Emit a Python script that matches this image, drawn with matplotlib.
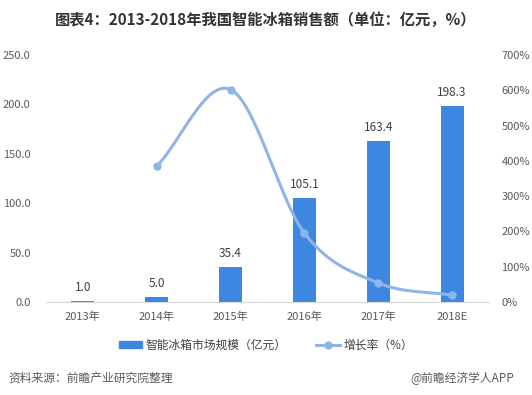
import numpy as np
import matplotlib

matplotlib.use("Agg")
import matplotlib.pyplot as plt
from matplotlib.patches import Patch
from matplotlib.lines import Line2D

plt.rcParams["font.family"] = ["Noto Sans CJK SC", "DejaVu Sans"]

years = ["2013年", "2014年", "2015年", "2016年", "2017年", "2018E"]
sales = [1.0, 5.0, 35.4, 105.1, 163.4, 198.3]
growth_years = [1, 2, 3, 4, 5]  # 2014 .. 2018E
growth = [385, 602, 195, 54, 19]

BAR_C = "#3D87E3"
LINE_C = "#8EB5E6"
TXT_C = "#595959"


def catmull_rom(xs, ys, n=40):
    # Excel 风格平滑曲线
    pts = np.column_stack([xs, ys]).astype(float)
    p = np.vstack([2 * pts[0] - pts[1], pts, 2 * pts[-1] - pts[-2]])
    out = []
    t = np.linspace(0, 1, n)[:, None]
    for i in range(1, len(p) - 2):
        p0, p1, p2, p3 = p[i - 1], p[i], p[i + 1], p[i + 2]
        seg = 0.5 * ((2 * p1) + (-p0 + p2) * t
                     + (2 * p0 - 5 * p1 + 4 * p2 - p3) * t ** 2
                     + (-p0 + 3 * p1 - 3 * p2 + p3) * t ** 3)
        out.append(seg)
    c = np.vstack(out)
    return c[:, 0], c[:, 1]


fig = plt.figure(figsize=(5.32, 3.95), dpi=100)
ax = fig.add_axes([46 / 532, 1 - 302 / 395, 443 / 532, 247 / 395])
x = np.arange(len(years))
bars = ax.bar(x, sales, 0.31, color=BAR_C, zorder=2)
for rect, v in zip(bars, sales):
    ax.annotate(f"{v:.1f}", (rect.get_x() + rect.get_width() / 2, v),
                xytext=(0, 5), textcoords="offset points",
                ha="center", va="bottom", fontsize=8.5, color="#404040")

ax.set_xlim(-0.5, len(years) - 0.5)
ax.set_ylim(0, 250)
ax.set_yticks(np.arange(0, 251, 50))
ax.set_yticklabels([f"{v:.1f}" for v in np.arange(0, 251, 50)])
ax.set_xticks(x)
ax.set_xticklabels(years)
ax.tick_params(length=0, labelsize=8, colors=TXT_C)
ax.tick_params(axis="y", pad=11)
ax.tick_params(axis="x", pad=7)
for s in ("top", "right", "left"):
    ax.spines[s].set_visible(False)
ax.spines["bottom"].set_color("#D9D9D9")

ax2 = ax.twinx()
cx, cy = catmull_rom(growth_years, growth)
ax2.plot(cx, cy, color=LINE_C, lw=2.2, zorder=3, solid_capstyle="round")
ax2.plot(growth_years, growth, "o", color=LINE_C, ms=5, zorder=4)
ax2.set_ylim(0, 700)
ax2.set_yticks(np.arange(0, 701, 100))
ax2.set_yticklabels([f"{v}%" for v in range(0, 701, 100)])
ax2.tick_params(length=0, labelsize=8, colors=TXT_C, pad=9)
for s in ("top", "right", "left", "bottom"):
    ax2.spines[s].set_visible(False)

fig.text(0.5, 1 - 20 / 395, "图表4：2013-2018年我国智能冰箱销售额（单位：亿元，%）",
         ha="center", va="center", fontsize=11, fontweight="bold", color="#333333")

handles = [Patch(color=BAR_C),
           Line2D([0], [0], color=LINE_C, lw=2.2, marker="o", ms=5)]
fig.legend(handles, ["智能冰箱市场规模（亿元）", "增长率（%）"],
           loc="center", bbox_to_anchor=(0.5, 1 - 345 / 395), ncol=2,
           frameon=False, fontsize=8.5, labelcolor="#404040",
           handlelength=2.0, handleheight=0.5, columnspacing=2.5,
           handletextpad=0.3)

fig.text(8 / 532, 1 - 378 / 395, "资料来源：前瞻产业研究院整理", ha="left",
         va="center", fontsize=8.5, style="italic", color="#595959")
fig.text(514 / 532, 1 - 378 / 395, "@前瞻经济学人APP", ha="right",
         va="center", fontsize=8.5, color="#595959")

fig.savefig("out.png", dpi=100, facecolor="white")
